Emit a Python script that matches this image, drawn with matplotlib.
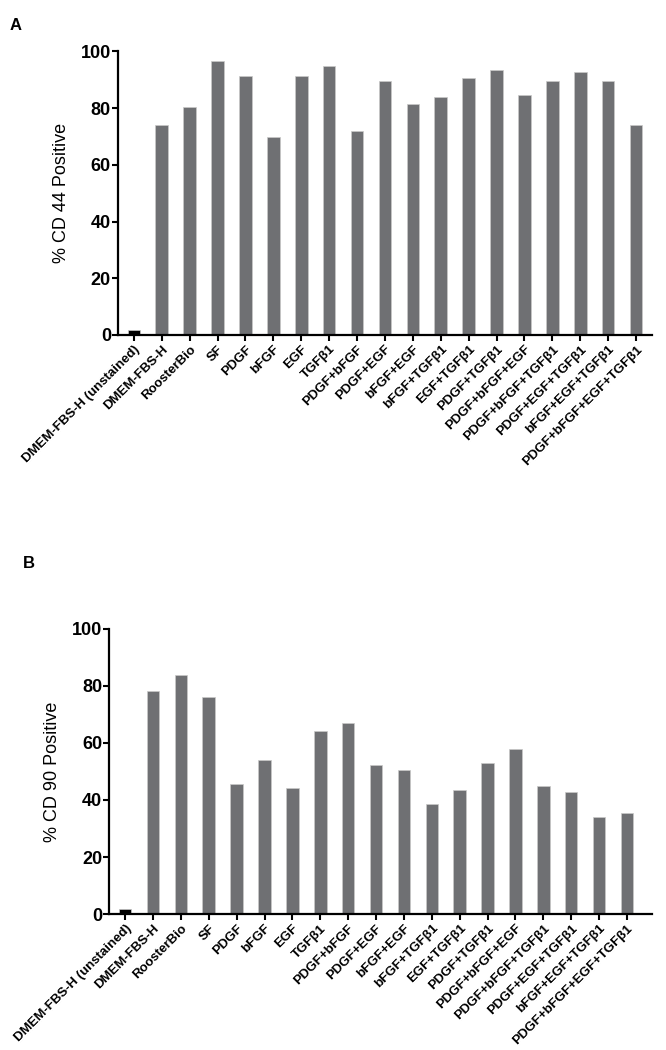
import matplotlib
matplotlib.use("Agg")
from matplotlib import pyplot as plt

plt.rcParams['font.family'] = ['Liberation Sans', 'DejaVu Sans']

conditions = [
    'DMEM-FBS-H (unstained)', 'DMEM-FBS-H', 'RoosterBio', 'SF', 'PDGF', 'bFGF',
    'EGF', 'TGFβ1', 'PDGF+bFGF', 'PDGF+EGF', 'bFGF+EGF', 'bFGF+TGFβ1',
    'EGF+TGFβ1', 'PDGF+TGFβ1', 'PDGF+bFGF+EGF', 'PDGF+bFGF+TGFβ1',
    'PDGF+EGF+TGFβ1', 'bFGF+EGF+TGFβ1', 'PDGF+bFGF+EGF+TGFβ1',
]

cd44 = [1.8, 74.0, 80.4, 96.6, 91.4, 69.7, 91.4, 94.9, 71.9, 89.7,
        81.4, 84.0, 90.8, 93.5, 84.6, 89.7, 92.9, 89.7, 74.0]

cd90 = [1.8, 78.1, 84.0, 76.2, 45.5, 54.0, 44.2, 64.2, 66.9, 52.4,
        50.5, 38.6, 43.6, 52.9, 58.0, 44.9, 42.8, 34.0, 35.5]

yticks = [0, 20, 40, 60, 80, 100]

bar_colors = ['black'] + ['#6f7073'] * (len(conditions) - 1)

fig = plt.figure(figsize=(6.66, 10.5), dpi=100)

axA = fig.add_axes([0.177, 0.681, 0.802, 0.270])
axB = fig.add_axes([0.164, 0.1295, 0.815, 0.2715])


def draw_panel(ax, values, ylabel, xmax):
    x = list(range(len(conditions)))
    ax.bar(x, values, width=0.45, color=bar_colors,
           edgecolor='#c9c9c9', linewidth=0.5)
    ax.set_ylim(0, 100)
    ax.set_xlim(-0.57, xmax)
    ax.set_yticks(yticks)
    ax.set_yticklabels([str(t) for t in yticks], fontsize=13, fontweight='bold')
    ax.set_xticks(x)
    ax.set_xticklabels(conditions, rotation=45, ha='right', va='top',
                       rotation_mode='anchor', fontsize=9.5, fontweight='bold')
    ax.tick_params(axis='y', direction='out', length=4, width=1.5, pad=1)
    ax.tick_params(axis='x', direction='out', length=4, width=1.5, pad=2)
    for side in ['top', 'right']:
        ax.spines[side].set_visible(False)
    for side in ['left', 'bottom']:
        ax.spines[side].set_linewidth(1.6)
    ax.set_ylabel(ylabel, fontsize=13, labelpad=8)


draw_panel(axA, cd44, '% CD 44 Positive', 18.57)
draw_panel(axB, cd90, '% CD 90 Positive', 18.9)

fig.text(0.015, 0.983, 'A', fontsize=12, fontweight='bold', va='top')
fig.text(0.034, 0.470, 'B', fontsize=12, fontweight='bold', va='top')

plt.savefig("out.png", dpi=100)
